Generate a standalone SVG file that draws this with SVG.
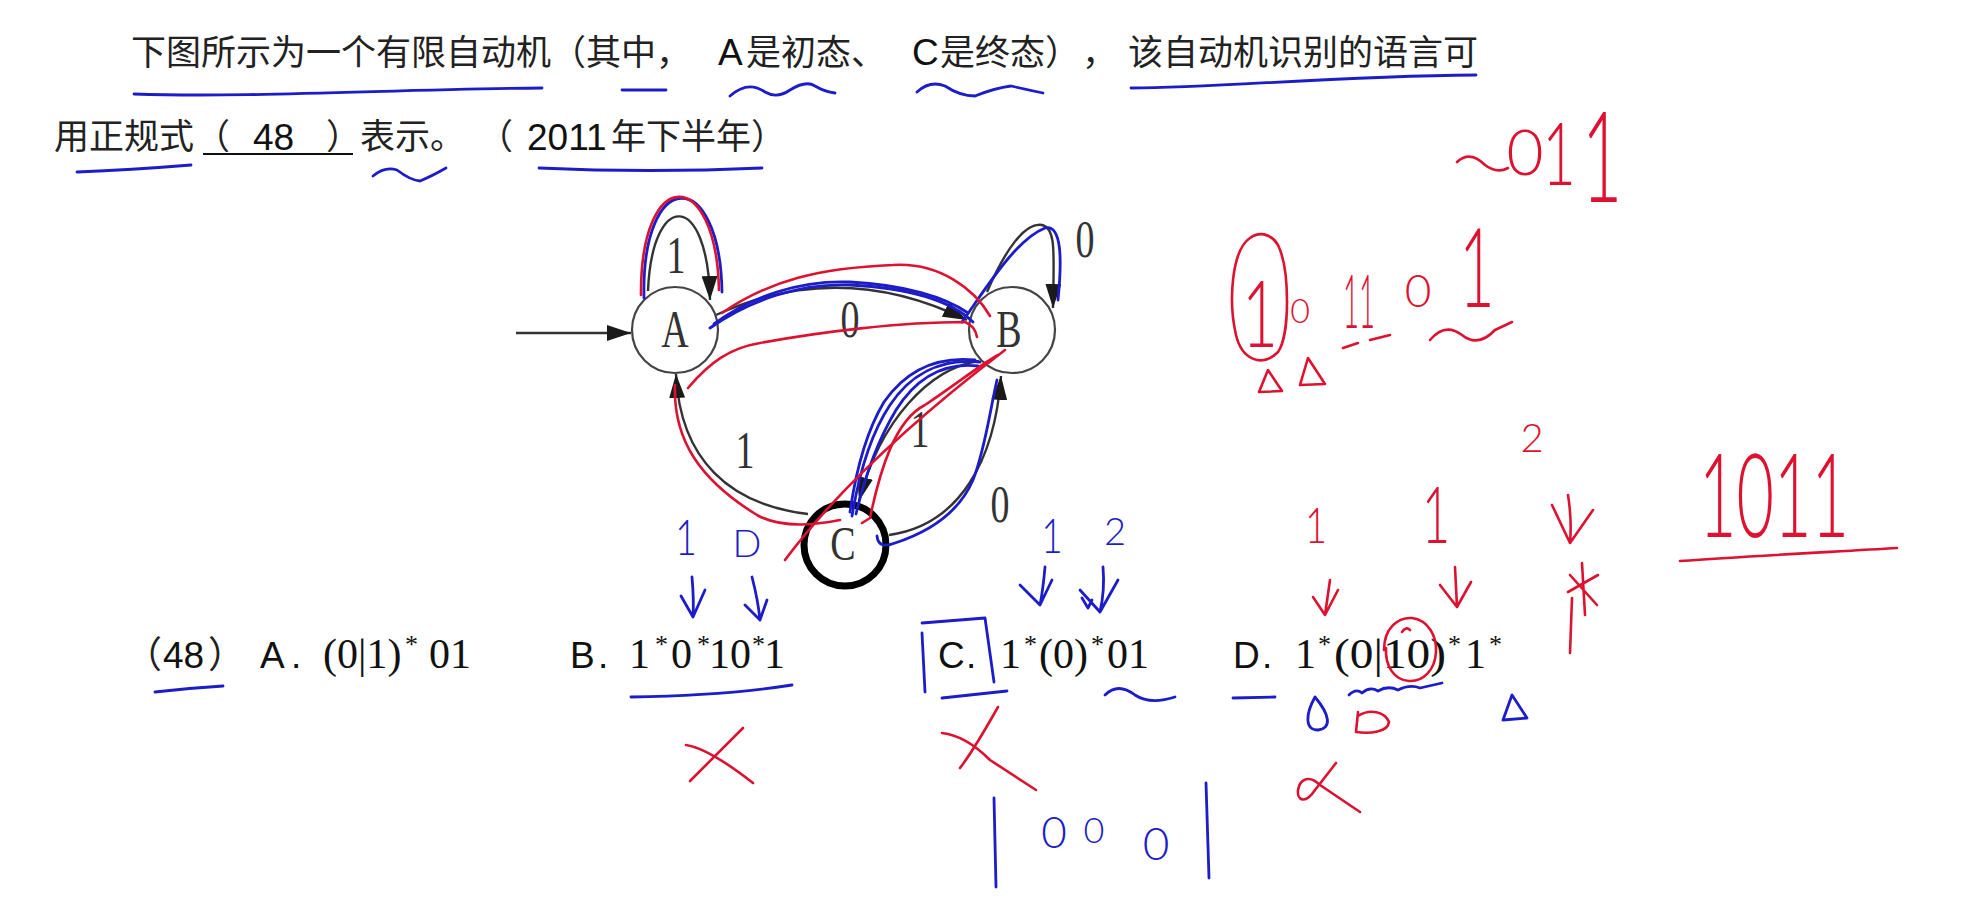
<svg xmlns="http://www.w3.org/2000/svg" width="1974" height="905" viewBox="0 0 1974 905">
<defs>
<style>
.cjk{font-family:"Noto Sans CJK SC","Noto Sans",sans-serif;font-size:35px;fill:#222}
.lat{font-family:"Liberation Sans",Arial,sans-serif;font-size:37px;fill:#111}
.ser{font-family:"Liberation Serif","Times New Roman",serif;font-size:42px;fill:#111}
.sup{font-family:"Liberation Serif","Times New Roman",serif;font-size:26px;fill:#111}
.lbl{font-family:"Liberation Serif","Times New Roman",serif;font-size:38px;fill:#333;text-anchor:middle}
.node{fill:#fff;stroke:#444;stroke-width:2.2}
.final{fill:#fff;stroke:#000;stroke-width:7}
.edge{fill:none;stroke:#333;stroke-width:2.4}
.red{fill:none;stroke:#dc1230;stroke-width:2.6;stroke-linecap:round;stroke-linejoin:round}
.blue{fill:none;stroke:#1c1cc8;stroke-width:2.8;stroke-linecap:round;stroke-linejoin:round}
.hwr{font-family:Lato,"DejaVu Sans",sans-serif;font-weight:300;fill:#dc1230;text-anchor:middle}
.hwb{font-family:Lato,"DejaVu Sans",sans-serif;font-weight:300;fill:#1c1cc8;text-anchor:middle}
</style>
<marker id="ah" markerUnits="userSpaceOnUse" markerWidth="24" markerHeight="16" refX="24" refY="8" orient="auto">
<path d="M0,0 L24,8 L0,16 z" fill="#1a1a1a"/>
</marker>
</defs>
<rect width="1974" height="905" fill="#fff"/>

<!-- question text -->
<g id="question">
<text class="cjk" y="65"><tspan x="131">下图所示为一个有限自动机</tspan><tspan x="551">（其中，</tspan><tspan x="746">是初态、</tspan><tspan x="940">是终态）</tspan><tspan x="1082">，</tspan><tspan x="1128">该自动机识别的语言可</tspan></text>
<text class="lat" y="65"><tspan x="718">A</tspan><tspan x="912">C</tspan></text>
<text class="cjk" y="149"><tspan x="54">用正规式</tspan><tspan x="195">（</tspan><tspan x="326">）</tspan><tspan x="360">表示。</tspan><tspan x="478">（</tspan><tspan x="611">年下半年）</tspan></text>
<text class="lat" y="150"><tspan x="253">48</tspan><tspan x="527">2011</tspan></text>
<line x1="203" y1="154" x2="353" y2="154" stroke="#111" stroke-width="2.2"/>
</g>

<!-- options -->
<g id="options">
<text class="cjk" x="125" y="668" style="font-size:37px">（</text>
<text class="lat" x="163" y="668">48</text>
<text class="cjk" x="208" y="668" style="font-size:37px">）</text>
<text class="lat" y="668"><tspan x="260">A</tspan><tspan x="291">.</tspan><tspan x="570">B</tspan><tspan x="598">.</tspan><tspan x="938">C</tspan><tspan x="966">.</tspan><tspan x="1233">D</tspan><tspan x="1262">.</tspan></text>
<text class="ser" y="668"><tspan x="323">(0|1)</tspan><tspan x="429">01</tspan><tspan x="629">1</tspan><tspan x="671">0</tspan><tspan x="709">10</tspan><tspan x="764">1</tspan><tspan x="1000">1</tspan><tspan x="1039">(0)</tspan><tspan x="1107">01</tspan><tspan x="1295">1</tspan><tspan x="1334" textLength="112" lengthAdjust="spacingAndGlyphs">(0|10)</tspan><tspan x="1465">1</tspan></text>
<text class="sup" y="653"><tspan x="405">*</tspan><tspan x="655">*</tspan><tspan x="697">*</tspan><tspan x="752">*</tspan><tspan x="1024">*</tspan><tspan x="1091">*</tspan><tspan x="1318">*</tspan><tspan x="1448">*</tspan><tspan x="1489">*</tspan></text>
</g>

<!-- automaton connectors -->
<g id="connectors">
<path class="edge" d="M516,333 L631,333" marker-end="url(#ah)"/>
<path class="edge" d="M648,291 C652,190 708,190 710,300" marker-end="url(#ah)"/>
<path class="edge" d="M716,315 Q840,258 967,320" marker-end="url(#ah)"/>
<path class="edge" d="M987,292 C1005,250 1025,222 1042,225 C1056,228 1054,252 1053,308" marker-end="url(#ah)"/>
<path class="edge" d="M979,361 C930,368 880,420 859,501" marker-end="url(#ah)"/>
<path class="edge" d="M808,514 C730,505 680,460 676,374" marker-end="url(#ah)"/>
<path class="edge" d="M889,535 C960,525 995,460 1001,376" marker-end="url(#ah)"/>
</g>

<g id="node-A"><circle class="node" cx="675" cy="330" r="43"/><text class="lbl" transform="translate(675,347) scale(1,1.4)">A</text></g>
<g id="node-B"><circle class="node" cx="1012" cy="330" r="43"/><text class="lbl" transform="translate(1009,347) scale(1,1.4)">B</text></g>
<g id="node-C"><circle class="final" cx="845" cy="545" r="41"/><text class="lbl" transform="translate(843,560) scale(1,1.3)">C</text></g>

<g id="edge-labels">
<text class="lbl" transform="translate(676,273) scale(1,1.4)">1</text>
<text class="lbl" transform="translate(850,337) scale(1,1.4)">0</text>
<text class="lbl" transform="translate(1085,257) scale(1,1.4)">0</text>
<text class="lbl" transform="translate(745,468) scale(1,1.4)">1</text>
<text class="lbl" transform="translate(920,447) scale(1,1.4)">1</text>
<text class="lbl" transform="translate(1000,522) scale(1,1.4)">0</text>
</g>

<!-- blue pen marks -->
<g id="blue-marks">
<path class="blue" d="M134,94 C250,98 400,89 542,88"/>
<path class="blue" d="M622,90 L666,90"/>
<path class="blue" d="M730,96 Q748,80 765,92 Q777,99 790,90 Q806,80 815,86 Q825,92 835,93"/>
<path class="blue" d="M917,92 Q930,80 945,86 Q960,96 975,96 Q995,88 1011,86 Q1028,90 1043,93"/>
<path class="blue" d="M1131,88 C1220,88 1330,76 1476,75"/>
<path class="blue" d="M77,172 Q130,170 191,165"/>
<path class="blue" d="M373,176 Q385,166 397,170 Q410,180 420,181 Q432,176 446,168"/>
<path class="blue" d="M539,168 Q650,173 762,168"/>
<path class="blue" d="M644,298 C641,166 720,166 722,292"/>
<path class="blue" d="M710,328 C750,300 800,283 850,285 C910,288 950,300 973,322"/>
<path class="blue" d="M714,324 C752,296 800,280 850,282 C905,285 945,297 968,313"/>
<path class="blue" d="M962,322 C985,290 1015,240 1045,228 C1062,224 1062,260 1058,300"/>
<path class="blue" d="M980,362 C940,358 910,375 890,405 C870,435 858,480 852,516"/>
<path class="blue" d="M978,366 C942,362 915,380 896,410 C878,440 864,480 856,514"/>
<path class="blue" d="M975,360 C935,356 905,372 884,402 C866,432 856,470 850,512"/>
<path class="blue" d="M877,536 C878,546 885,547 895,543 C935,530 960,510 973,480 C985,450 990,410 997,380"/>
<path class="blue" d="M692,577 Q694,600 693,617 M681,596 L693,617 L705,590"/>
<path class="blue" d="M752,577 Q758,600 760,620 M745,605 L760,620 L767,600"/>
<path class="blue" d="M1045,567 Q1043,590 1040,605 M1020,585 L1040,605 L1052,580"/>
<path class="blue" d="M1103,567 Q1105,590 1100,612 M1080,590 L1100,612 L1118,580 M1082,598 L1088,608 L1092,600"/>
<path class="blue" d="M155,692 Q190,688 223,686"/>
<path class="blue" d="M631,697 C700,696 760,690 792,685"/>
<path class="blue" d="M922,623 L985,618 L994,682 M922,633 L925,692"/>
<path class="blue" d="M942,698 L1007,691"/>
<path class="blue" d="M1105,695 Q1118,682 1135,695 Q1150,705 1175,697"/>
<path class="blue" d="M1233,698 L1275,697"/>
<path class="blue" d="M1349,695 Q1356,688 1362,693 Q1370,686 1378,691 Q1388,685 1398,690 Q1410,684 1420,688 L1442,683"/>
<path class="blue" d="M1315,697 C1305,715 1305,730 1318,730 C1332,728 1330,715 1315,697"/>
<path class="blue" d="M1512,695 L1503,720 L1527,718 Z"/>
<path class="blue" d="M994,798 L996,887"/>
<path class="blue" d="M1206,783 L1209,878"/>
<text class="hwb" transform="translate(686,555) scale(1,1.3)" style="font-size:38px">1</text>
<text class="hwb" x="747" y="557" style="font-size:38px">D</text>
<text class="hwb" transform="translate(1052,553) scale(1,1.3)" style="font-size:37px">1</text>
<text class="hwb" x="1115" y="545" style="font-size:38px">2</text>
<text class="hwb" x="1054" y="848" style="font-size:44px">0</text>
<text class="hwb" x="1094" y="843" style="font-size:36px">0</text>
<text class="hwb" x="1156" y="860" style="font-size:46px">0</text>
</g>

<!-- red pen marks -->
<g id="red-marks">
<path class="red" d="M641,295 C640,165 716,165 719,290"/>
<path class="red" d="M722,313 C770,280 820,268 893,265 C940,262 975,290 990,316"/>
<path class="red" d="M688,388 C710,362 730,348 760,343 C820,332 900,322 965,322 Q975,326 977,337"/>
<path class="red" d="M675,385 C673,440 700,480 757,515 C780,528 810,526 840,520"/>
<path class="red" d="M785,560 C830,500 900,430 1005,350"/>
<path class="red" d="M862,523 L870,518 C880,470 895,420 925,405 C955,385 980,365 998,355"/>
<path class="red" d="M998,707 C985,730 970,755 960,768 M942,733 C960,735 975,745 990,760 L1036,790"/>
<path class="red" d="M743,728 L690,781 M686,745 C705,748 730,765 753,783"/>
<path class="red" d="M1384,650 C1384,628 1398,617 1412,618 C1428,620 1437,636 1436,652 C1435,670 1423,682 1409,681 C1394,680 1385,666 1386,648 M1402,632 Q1406,626 1410,630"/>
<path class="red" d="M1358,712 L1356,732 C1370,734 1388,732 1389,722 C1385,712 1370,708 1358,716"/>
<path class="red" d="M1336,763 L1315,790 C1305,805 1297,800 1298,790 C1300,778 1310,775 1320,785 L1360,812"/>
<path class="red" d="M1330,580 L1325,615 M1313,597 L1325,615 L1338,590"/>
<path class="red" d="M1455,567 L1457,607 M1440,585 L1457,607 L1471,582"/>
<path class="red" d="M1568,495 Q1572,520 1570,543 M1552,505 L1570,543 L1593,510"/>
<path class="red" d="M1582,563 L1585,615 M1568,592 L1598,575 M1570,575 L1597,605 M1572,598 L1570,653"/>
<path class="red" d="M1680,561 C1750,556 1830,552 1897,548"/>
<path class="red" d="M1457,162 Q1470,150 1485,165 Q1497,174 1508,168"/>
<path class="red" d="M1250,238 C1232,250 1228,300 1236,335 C1242,360 1262,368 1278,352 C1290,335 1290,270 1278,245 C1270,232 1258,232 1250,238"/>
<path class="red" d="M1343,348 L1358,343 M1370,340 L1390,335"/>
<path class="red" d="M1430,340 Q1445,322 1462,335 Q1478,348 1495,330 L1512,322"/>
<path class="red" d="M1268,370 L1259,392 L1282,391 Z M1308,358 L1300,385 L1325,384 Z"/>
<text class="hwr" x="1525" y="175" style="font-size:64px">0</text>
<text class="hwr" transform="translate(1559,185) scale(1,1.5)" style="font-size:58px">1</text>
<text class="hwr" transform="translate(1602,202) scale(1,1.8)" style="font-size:70px">1</text>
<text class="hwr" transform="translate(1260,347) scale(1,1.5)" style="font-size:62px">1</text>
<text class="hwr" x="1300" y="323" style="font-size:34px">0</text>
<text class="hwr" transform="translate(1359,328) scale(1,1.5)" style="font-size:50px" textLength="32" lengthAdjust="spacingAndGlyphs">11</text>
<text class="hwr" x="1418" y="307" style="font-size:46px">0</text>
<text class="hwr" transform="translate(1477,307) scale(1,1.8)" style="font-size:61px">1</text>
<text class="hwr" x="1532" y="452" style="font-size:40px">2</text>
<text class="hwr" transform="translate(1316,543) scale(1,1.3)" style="font-size:38px">1</text>
<text class="hwr" transform="translate(1436,543) scale(1,1.6)" style="font-size:49px">1</text>
<text class="hwr" transform="translate(1774,537) scale(1,1.55)" style="font-size:75px" textLength="150" lengthAdjust="spacingAndGlyphs">1011</text>
</g>
</svg>
